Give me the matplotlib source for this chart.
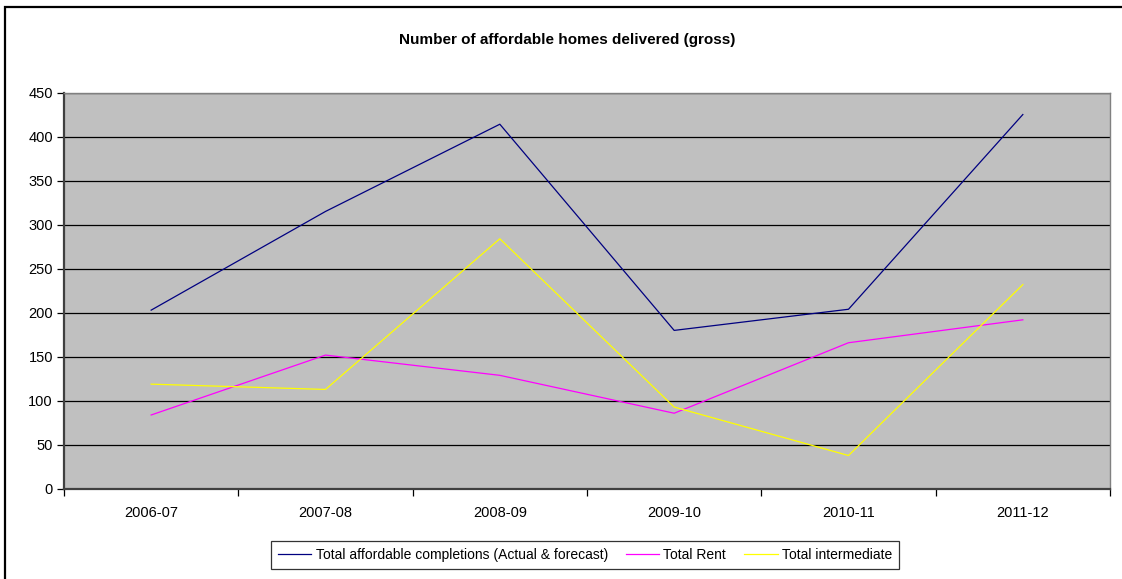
import matplotlib as mpl
mpl.use('Agg')
import numpy as np
import matplotlib.pyplot as plt
from matplotlib.patches import Rectangle

plt.rcParams['font.family'] = ['Liberation Sans', 'DejaVu Sans']

# Data
years = ['2006-07', '2007-08', '2008-09', '2009-10', '2010-11', '2011-12']
total_completions = [203, 315, 414, 180, 204, 425]
total_rent = [84, 152, 129, 86, 166, 192]
total_intermediate = [119, 113, 284, 93, 38, 232]

W, H = 1122, 579
fig = plt.figure(figsize=(W / 100, H / 100), dpi=100)

# Outer chart border (runs off the right and bottom edges as in the original)
fig.patches.append(Rectangle((5 / W, -0.05), 1.2, 1 - 7 / H + 0.05,
                             transform=fig.transFigure, fill=False,
                             edgecolor='black', linewidth=1.6))

left, right, top, bottom = 64, 1110, 92.5, 489
ax = fig.add_axes([left / W, 1 - bottom / H, (right - left) / W, (bottom - top) / H])
ax.set_facecolor('#c0c0c0')

x = np.arange(len(years))
ax.plot(x, total_completions, color='#000080', linewidth=0.9,
        label='Total affordable completions (Actual & forecast)')
ax.plot(x, total_rent, color='#ff00ff', linewidth=0.9, label='Total Rent')
ax.plot(x, total_intermediate, color='#ffff00', linewidth=0.9, label='Total intermediate')

ax.set_xlim(-0.5, len(years) - 0.5)
ax.set_ylim(0, 450)
ax.set_yticks(np.arange(0, 451, 50))
ax.yaxis.grid(True, color='black', linewidth=0.9)
ax.set_axisbelow(True)

ax.set_xticks(x)
ax.set_xticklabels(years)
ax.set_xticks(np.arange(-0.5, len(years), 1), minor=True)
ax.tick_params(axis='x', which='major', length=0, pad=12, labelsize=10.5)
ax.tick_params(axis='x', which='minor', length=5, width=0.9, color='black')
ax.tick_params(axis='y', length=5, width=0.9, color='black', pad=3, labelsize=10.5)

for side in ['top', 'right']:
    ax.spines[side].set_color('#808080')
    ax.spines[side].set_linewidth(1.0)
for side in ['left', 'bottom']:
    ax.spines[side].set_color('#404040')
    ax.spines[side].set_linewidth(1.6)

fig.text(567 / W, 1 - 40 / H, 'Number of affordable homes delivered (gross)',
         ha='center', va='center', fontsize=11, fontweight='bold')

leg = fig.legend(loc='center', bbox_to_anchor=(585 / W, 1 - 555 / H), ncol=3,
                 fontsize=10, frameon=True, fancybox=False, handlelength=2.4,
                 handletextpad=0.3, columnspacing=1.3, borderpad=0.5)
leg.get_frame().set_edgecolor('black')
leg.get_frame().set_linewidth(0.9)

fig.savefig('out.png', dpi=100)
